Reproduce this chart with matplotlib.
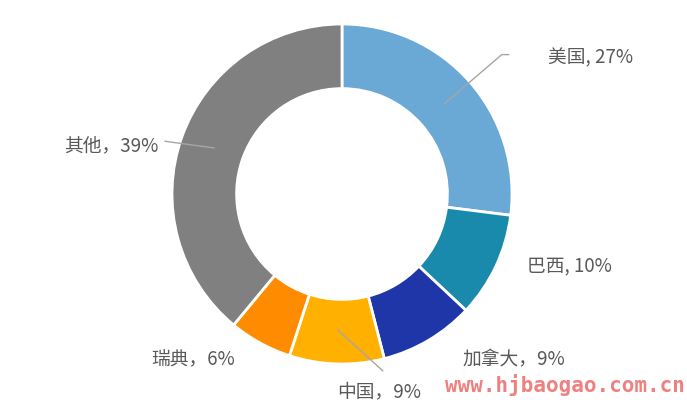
import matplotlib
matplotlib.use("Agg")
import matplotlib.pyplot as plt
import numpy as np

plt.rcParams['font.family'] = ['Noto Sans CJK SC', 'DejaVu Sans']

countries = ["美国", "巴西", "加拿大", "中国", "瑞典", "其他"]
shares = [27, 10, 9, 9, 6, 39]
labels = ["美国, 27%", "巴西, 10%", "加拿大，9%", "中国，9%", "瑞典，6%", "其他，39%"]
colors = ["#6aa9d5", "#1a8aac", "#1e36a8", "#ffb000", "#ff8c00", "#808080"]

fig = plt.figure(figsize=(6.87, 4.10), dpi=100)
ax = fig.add_axes([0, 0, 1, 1])
wedges, _ = ax.pie(shares, colors=colors, startangle=90, counterclock=False,
                   radius=1.0, wedgeprops=dict(width=0.38, edgecolor="white", linewidth=2))

# layout: label anchor positions (axes data units), and alignment
label_pos = [(1.21, 0.81, "left"), (1.09, -0.42, "left"), (0.71, -0.97, "left"),
             (-0.03, -1.16, "left"), (-1.12, -0.97, "left"), (-1.08, 0.29, "right")]
text_color = "#595959"
for lab, (x, y, ha) in zip(labels, label_pos):
    ax.text(x, y, lab, ha=ha, va="center", fontsize=13.5, color=text_color, clip_on=False)

# leader lines from wedge middle
cum = np.cumsum([0] + shares)
total = cum[-1]
def wedge_pt(i, r=0.8):
    mid = (cum[i] + cum[i + 1]) / 2 / total
    ang = np.deg2rad(90 - 360 * mid)
    return r * np.cos(ang), r * np.sin(ang)

lc = "#a6a6a6"
p = wedge_pt(0)
ax.plot([p[0], 0.94, 0.98], [p[1], 0.82, 0.82], color=lc, lw=1, clip_on=False)
p = wedge_pt(3)
ax.plot([p[0], 0.24], [p[1], -1.04], color=lc, lw=1, clip_on=False)
p = wedge_pt(5)
ax.plot([p[0], -1.04], [p[1], 0.31], color=lc, lw=1, clip_on=False)

ax.set_xlim(-342 / 170, 345 / 170)
ax.set_ylim(-215 / 170, 195 / 170)
ax.set_aspect("auto")
ax.axis("off")

fig.text(0.997, 0.06, "www.hjbaogao.com.cn", ha="right", va="center", fontsize=15,
         family="DejaVu Sans Mono", fontweight="bold", color="#ee8080")

fig.savefig("out.png", dpi=100)
